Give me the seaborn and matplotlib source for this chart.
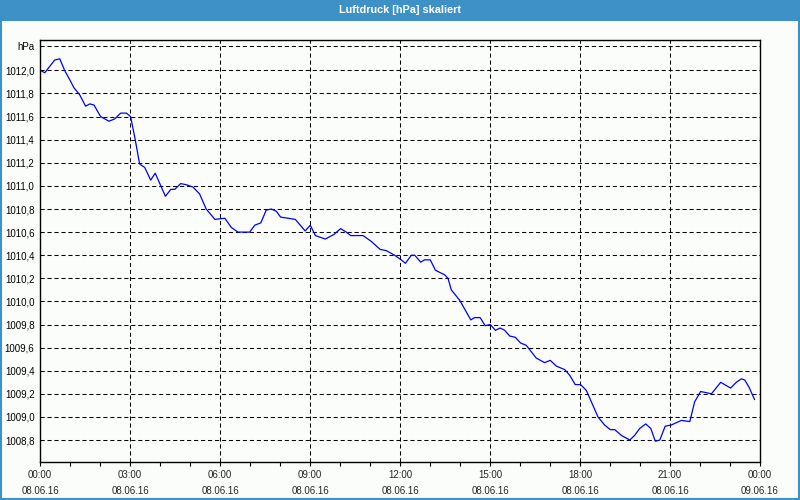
import matplotlib
matplotlib.use("Agg")
import matplotlib.pyplot as plt
from matplotlib.patches import Rectangle
from matplotlib.ticker import MultipleLocator
import seaborn as sns
import pandas as pd

# ---- data ----
hours = [0.0, 0.16, 0.49, 0.66, 0.82, 0.99, 1.13, 1.32, 1.52, 1.66, 1.80, 2.02, 2.30, 2.49, 2.69, 2.88,
         3.02, 3.16, 3.32, 3.49, 3.69, 3.84, 4.18, 4.36, 4.49, 4.69, 4.88, 5.10, 5.32, 5.54, 5.83,
         6.16, 6.38, 6.60, 6.99, 7.16, 7.36, 7.54, 7.71, 7.88, 8.02, 8.51, 8.84, 9.01, 9.18, 9.51,
         9.80, 10.02, 10.21, 10.36, 10.77, 11.04, 11.34, 11.54, 11.82, 12.04, 12.18, 12.38, 12.49,
         12.69, 12.82, 13.01, 13.18, 13.49, 13.60, 13.71, 13.99, 14.36, 14.49, 14.67, 14.84, 15.01,
         15.18, 15.34, 15.49, 15.66, 15.84, 16.02, 16.21, 16.54, 16.82, 17.01, 17.21, 17.49, 17.66,
         17.84, 18.02, 18.21, 18.38, 18.60, 18.82, 19.01, 19.16, 19.38, 19.66, 19.82, 19.99, 20.19,
         20.36, 20.51, 20.66, 20.84, 21.04, 21.38, 21.66, 21.82, 22.02, 22.21, 22.38, 22.69, 22.82,
         23.02, 23.21, 23.38, 23.49, 23.63, 23.82]
pressure = [1012.00, 1011.98, 1012.09, 1012.10, 1012.00, 1011.92, 1011.85, 1011.79, 1011.69, 1011.71,
            1011.70, 1011.60, 1011.56, 1011.58, 1011.63, 1011.63, 1011.60, 1011.42, 1011.19, 1011.16,
            1011.05, 1011.11, 1010.91, 1010.97, 1010.97, 1011.02, 1011.01, 1010.99, 1010.93, 1010.80,
            1010.71, 1010.72, 1010.64, 1010.60, 1010.60, 1010.66, 1010.68, 1010.79, 1010.80, 1010.78,
            1010.73, 1010.71, 1010.61, 1010.66, 1010.57, 1010.54, 1010.58, 1010.63, 1010.60, 1010.57,
            1010.57, 1010.52, 1010.45, 1010.44, 1010.40, 1010.36, 1010.33, 1010.40, 1010.40, 1010.34,
            1010.36, 1010.36, 1010.27, 1010.23, 1010.20, 1010.10, 1010.01, 1009.84, 1009.86, 1009.86,
            1009.79, 1009.80, 1009.75, 1009.77, 1009.75, 1009.70, 1009.69, 1009.64, 1009.62, 1009.51,
            1009.47, 1009.49, 1009.44, 1009.41, 1009.36, 1009.28, 1009.28, 1009.23, 1009.13, 1009.00,
            1008.93, 1008.89, 1008.89, 1008.84, 1008.80, 1008.84, 1008.90, 1008.94, 1008.90, 1008.79,
            1008.80, 1008.92, 1008.93, 1008.97, 1008.96, 1009.13, 1009.22, 1009.21, 1009.20, 1009.30,
            1009.28, 1009.25, 1009.30, 1009.33, 1009.32, 1009.26, 1009.15]

xtick_hours = [0, 3, 6, 9, 12, 15, 18, 21, 24]
xtick_times = ["00:00", "03:00", "06:00", "09:00", "12:00", "15:00", "18:00", "21:00", "00:00"]
xtick_dates = ["08.06.16"] * 8 + ["09.06.16"]
ytick_values = [1008.8, 1009.0, 1009.2, 1009.4, 1009.6, 1009.8, 1010.0, 1010.2, 1010.4,
                1010.6, 1010.8, 1011.0, 1011.2, 1011.4, 1011.6, 1011.8, 1012.0]
unit_label = "hPa"
unit_pos = 1012.21
title = "Luftdruck [hPa] skaliert"

# ---- style ----
sns.set_style("white")
plt.rcParams["font.family"] = ["Liberation Sans", "DejaVu Sans"]

bar_blue = "#3D91C7"
bg = "#FBFDFB"

fig = plt.figure(figsize=(8, 5), dpi=100, facecolor=bg)
ax = fig.add_axes([0.05, 0.076, 0.90, 0.844])
ax.set_facecolor(bg)

df = pd.DataFrame({"h": hours, "p": pressure})
sns.lineplot(data=df, x="h", y="p", ax=ax, color="#0000FF", linewidth=0.9, estimator=None)

ax.set_xlim(0, 24)
ax.set_ylim(1008.61, 1012.263)
ax.set_xlabel("")
ax.set_ylabel("")

# y ticks
yt = ytick_values + [unit_pos]
ylab = [f"{v:.1f}".replace(".", ",") for v in ytick_values] + [unit_label]
ax.set_yticks(yt)
ax.set_yticklabels(ylab)
ax.tick_params(axis="y", length=0, pad=4, labelsize=7, colors="black")

# x ticks
ax.set_xticks(xtick_hours)
ax.set_xticklabels([f"{t}\n{d}" for t, d in zip(xtick_times, xtick_dates)], linespacing=1.85)
ax.xaxis.set_minor_locator(MultipleLocator(1))
ax.tick_params(axis="x", which="both", direction="out", length=3, width=0.8, color="black",
               labelsize=7, pad=2.5, bottom=True)

# grid
dash = (0, (4, 2.7))
for v in yt:
    ax.axhline(v, color="black", lw=0.75, ls=dash, zorder=1)
for h in xtick_hours[1:-1]:
    ax.axvline(h, color="black", lw=0.75, ls=dash, zorder=1)

for s in ax.spines.values():
    s.set_visible(True)
    s.set_color("black")
    s.set_linewidth(1.0)

# title bar
fig.patches.append(Rectangle((0, 0.959), 1, 0.041, transform=fig.transFigure,
                             facecolor=bar_blue, edgecolor="none", zorder=0))
fig.text(0.5, 0.98, title, color="white", fontsize=7.8, fontweight="bold",
         ha="center", va="center")
# frame border
fig.patches.append(Rectangle((0.001, 0.002), 0.998, 0.997, transform=fig.transFigure,
                             fill=False, edgecolor=bar_blue, linewidth=1.5, zorder=5))

fig.savefig("out.png", dpi=100, facecolor=bg)
